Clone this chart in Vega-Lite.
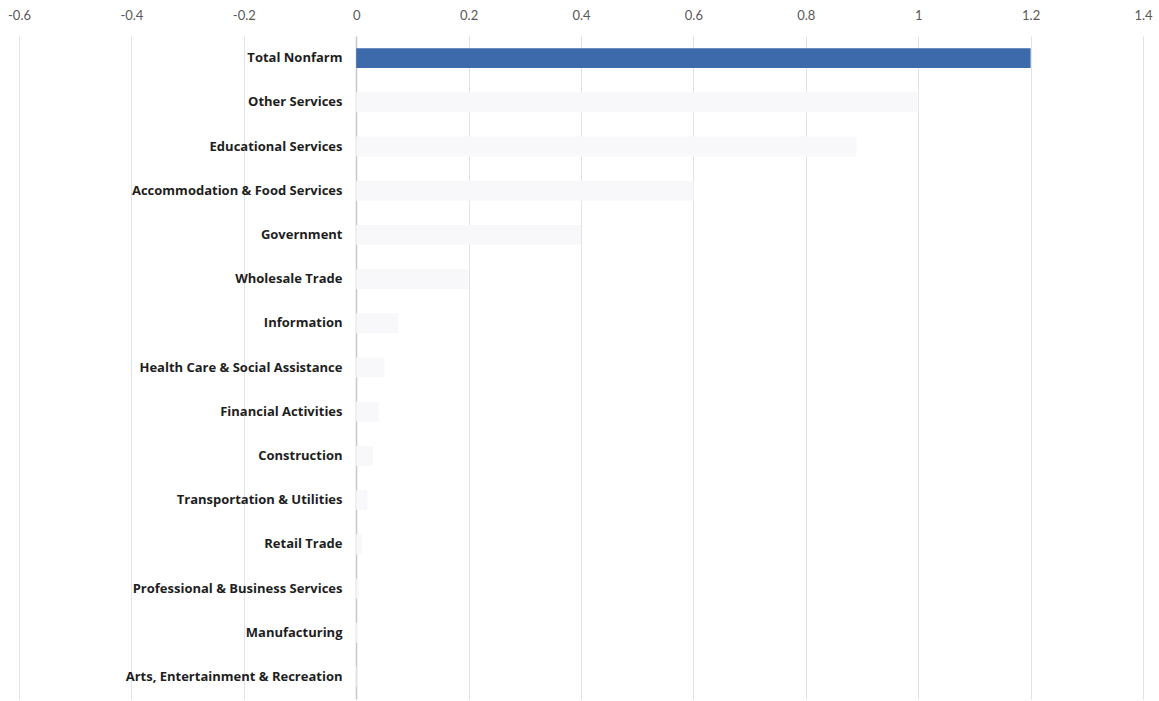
{
  "$schema": "https://vega.github.io/schema/vega-lite/v6.json",
  "autosize": {"type": "none"},
  "padding": {"left": 19, "top": 36, "right": 16, "bottom": 2},
  "width": 1124,
  "height": 663,
  "background": "white",
  "data": {
    "values": [
      {"sector": "Total Nonfarm", "value": 1.2},
      {"sector": "Other Services", "value": 1.0},
      {"sector": "Educational Services", "value": 0.89},
      {"sector": "Accommodation & Food Services", "value": 0.6},
      {"sector": "Government", "value": 0.4},
      {"sector": "Wholesale Trade", "value": 0.2},
      {"sector": "Information", "value": 0.075},
      {"sector": "Health Care & Social Assistance", "value": 0.05},
      {"sector": "Financial Activities", "value": 0.04},
      {"sector": "Construction", "value": 0.03},
      {"sector": "Transportation & Utilities", "value": 0.02},
      {"sector": "Retail Trade", "value": 0.01},
      {"sector": "Professional & Business Services", "value": 0.005},
      {"sector": "Manufacturing", "value": 0.003},
      {"sector": "Arts, Entertainment & Recreation", "value": 0.001}
    ]
  },
  "mark": {"type": "bar"},
  "encoding": {
    "y": {
      "field": "sector",
      "type": "nominal",
      "sort": null,
      "scale": {"paddingInner": 0.55, "paddingOuter": 0.275},
      "axis": {
        "title": null,
        "offset": -337,
        "ticks": false,
        "domain": true,
        "domainColor": "#c8c8c8",
        "domainWidth": 1.5,
        "labelPadding": 14,
        "labelFont": "Open Sans",
        "labelFontWeight": "bold",
        "labelFontSize": 13,
        "labelColor": "#1e1e1e",
        "labelLimit": 400
      }
    },
    "x": {
      "field": "value",
      "type": "quantitative",
      "scale": {"domain": [-0.6, 1.4], "nice": false, "zero": false},
      "axis": {
        "orient": "top",
        "title": null,
        "values": [-0.6, -0.4, -0.2, 0, 0.2, 0.4, 0.6, 0.8, 1, 1.2, 1.4],
        "labelExpr": "datum.value == 0 ? '0' : (datum.value < 0 ? '-' + format(-datum.value, '~g') : format(datum.value, '~g'))",
        "ticks": false,
        "domain": false,
        "grid": true,
        "gridColor": "#e2e2ea",
        "gridWidth": 1,
        "labelPadding": 14,
        "labelFont": "Lato",
        "labelFontSize": 13,
        "labelColor": "#595959",
        "labelFlush": false
      }
    },
    "color": {
      "condition": {"test": "datum.value >= 1.1", "value": "#3d6aab"},
      "value": "#f8f8fb"
    }
  },
  "config": {"view": {"stroke": null}}
}
